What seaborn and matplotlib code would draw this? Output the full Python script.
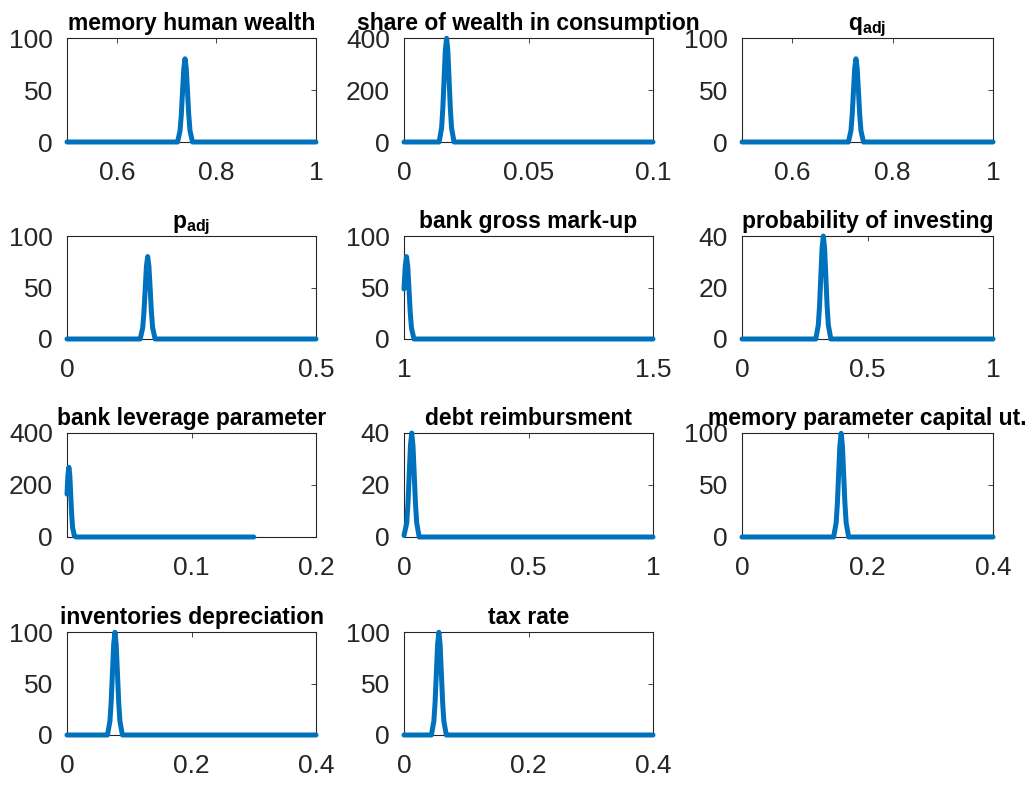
import matplotlib
matplotlib.use("Agg")
import matplotlib.pyplot as plt
import seaborn as sns
from matplotlib.ticker import FuncFormatter

# ---------------- data ----------------
titles = ["memory human wealth", "share of wealth in consumption", r"$\mathbf{q_{adj}}$",
          r"$\mathbf{p_{adj}}$", "bank gross mark-up", "probability of investing",
          "bank leverage parameter", "debt reimbursment", "memory parameter capital ut.",
          "inventories depreciation", "tax rate"]

mhw_x = [0.5, 0.722, 0.727, 0.7295, 0.732, 0.7345, 0.737, 0.7395, 0.742, 0.7445, 0.747, 0.752, 1.0]
mhw_y = [0, 0, 10.8, 26, 48.6, 70.6, 80, 70.6, 48.6, 26, 10.8, 0, 0]

sw_x = [0, 0.0141, 0.0151, 0.0156, 0.0161, 0.0166, 0.0171, 0.0176, 0.0181, 0.0186, 0.0191, 0.0201, 0.1]
sw_y = [0, 0, 54, 130, 242, 352, 399, 352, 242, 130, 54, 0, 0]

qadj_x = [0.5, 0.712, 0.717, 0.7195, 0.722, 0.7245, 0.727, 0.7295, 0.732, 0.7345, 0.737, 0.742, 1.0]
qadj_y = [0, 0, 10.8, 26, 48.6, 70.6, 80, 70.6, 48.6, 26, 10.8, 0, 0]

padj_x = [0, 0.147, 0.152, 0.1545, 0.157, 0.1595, 0.162, 0.1645, 0.167, 0.1695, 0.172, 0.177, 0.5]
padj_y = [0, 0, 10.8, 26, 48.6, 70.6, 80, 70.6, 48.6, 26, 10.8, 0, 0]

bgm_x = [1.0, 1.0025, 1.005, 1.0075, 1.01, 1.0125, 1.015, 1.02, 1.5]
bgm_y = [48.6, 70.6, 80, 70.6, 48.6, 26, 10.8, 0, 0]

poi_x = [0, 0.294, 0.304, 0.309, 0.314, 0.319, 0.324, 0.329, 0.334, 0.339, 0.344, 0.354, 1.0]
poi_y = [0, 0, 5.4, 13, 24.3, 35.3, 40, 35.3, 24.3, 13, 5.4, 0, 0]

blp_x = [0, 0.00075, 0.0015, 0.00225, 0.003, 0.00375, 0.0045, 0.006, 0.0075, 0.15]
blp_y = [165, 238, 268, 238, 163, 87, 36, 3, 0, 0]

dr_x = [0, 0.011, 0.016, 0.021, 0.026, 0.031, 0.036, 0.041, 0.046, 0.051, 0.061, 1.0]
dr_y = [0.6, 5.4, 13, 24.3, 35.3, 40, 35.3, 24.3, 13, 5.4, 0, 0]

mpc_x = [0, 0.146, 0.150, 0.152, 0.154, 0.156, 0.158, 0.160, 0.162, 0.164, 0.166, 0.170, 0.4]
mpc_y = [0, 0, 13.5, 32.4, 60.5, 88, 99.7, 88, 60.5, 32.4, 13.5, 0, 0]

inv_x = [0, 0.065, 0.069, 0.071, 0.073, 0.075, 0.077, 0.079, 0.081, 0.083, 0.085, 0.089, 0.4]
inv_y = [0, 0, 13.5, 32.4, 60.5, 88, 99.7, 88, 60.5, 32.4, 13.5, 0, 0]

tax_x = [0, 0.044, 0.048, 0.050, 0.052, 0.054, 0.056, 0.058, 0.060, 0.062, 0.064, 0.068, 0.4]
tax_y = [0, 0, 13.5, 32.4, 60.5, 88, 99.7, 88, 60.5, 32.4, 13.5, 0, 0]

xlims = [(0.5, 1), (0, 0.1), (0.5, 1), (0, 0.5), (1, 1.5), (0, 1), (0, 0.2), (0, 1), (0, 0.4), (0, 0.4), (0, 0.4)]
xticks = [[0.6, 0.8, 1], [0, 0.05, 0.1], [0.6, 0.8, 1], [0, 0.5], [1, 1.5], [0, 0.5, 1],
          [0, 0.1, 0.2], [0, 0.5, 1], [0, 0.2, 0.4], [0, 0.2, 0.4], [0, 0.2, 0.4]]
ylims = [100, 400, 100, 100, 100, 40, 400, 40, 100, 100, 100]
yticks = [[0, 50, 100], [0, 200, 400], [0, 50, 100], [0, 50, 100], [0, 50, 100], [0, 20, 40],
          [0, 200, 400], [0, 20, 40], [0, 50, 100], [0, 50, 100], [0, 50, 100]]

series = [(mhw_x, mhw_y), (sw_x, sw_y), (qadj_x, qadj_y), (padj_x, padj_y), (bgm_x, bgm_y),
          (poi_x, poi_y), (blp_x, blp_y), (dr_x, dr_y), (mpc_x, mpc_y), (inv_x, inv_y), (tax_x, tax_y)]

# ---------------- style ----------------
sns.set_style("white")
plt.rcParams["font.family"] = ["Liberation Sans", "DejaVu Sans"]
plt.rcParams["mathtext.fontset"] = "custom"
plt.rcParams["mathtext.rm"] = "Liberation Sans"
plt.rcParams["mathtext.bf"] = "Liberation Sans:bold"
plt.rcParams["mathtext.it"] = "Liberation Sans:italic"

W, H = 1025, 785
fig = plt.figure(figsize=(W / 100, H / 100), dpi=100)

col_lr = [(67, 316), (404, 653), (742, 993)]
row_tb = [(38, 142), (236, 339), (433, 537), (632, 735)]

line_color = "#0072BD"
axis_color = "#262626"
fmt = FuncFormatter(lambda v, p: "%g" % v)

for i, (xs, ys) in enumerate(series):
    r, c = divmod(i, 3)
    l, rr = col_lr[c]
    t, b = row_tb[r]
    ax = fig.add_axes([l / W, 1 - b / H, (rr - l) / W, (b - t) / H])
    sns.lineplot(x=xs, y=ys, ax=ax, color=line_color, linewidth=3.6, sort=False,
                 estimator=None, clip_on=False, zorder=5, solid_joinstyle="round")
    ax.set_xlim(*xlims[i])
    ax.set_ylim(0, ylims[i])
    ax.set_xticks(xticks[i])
    ax.set_yticks(yticks[i])
    ax.xaxis.set_major_formatter(fmt)
    ax.yaxis.set_major_formatter(fmt)
    ax.tick_params(axis="both", direction="in", length=3.5, width=0.6, colors=axis_color,
                   labelsize=19, top=True, right=True)
    ax.tick_params(axis="x", pad=14)
    ax.tick_params(axis="y", pad=10)
    for s in ax.spines.values():
        s.set_visible(True)
        s.set_color(axis_color)
        s.set_linewidth(0.8)
        s.set_zorder(1)
    ax.set_title(titles[i], fontsize=16.5, fontweight="bold", color="black", pad=5.5)

fig.savefig("out.png", dpi=100)
